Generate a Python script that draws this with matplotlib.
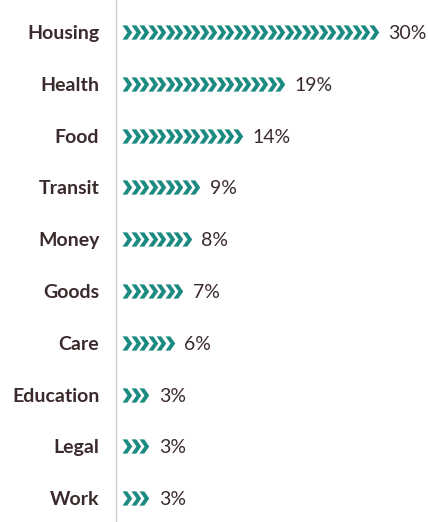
"""Pictogram bar chart: one chevron per percent"""

import matplotlib
matplotlib.use("Agg")
import matplotlib.pyplot as plt
from matplotlib.path import Path

categories = ["Housing", "Health", "Food", "Transit", "Money",
              "Goods", "Care", "Education", "Legal", "Work"]
shares = [30, 19, 14, 9, 8, 7, 6, 3, 3, 3]

TEAL = "#1b8a80"
TEXT = "#3b2a2c"

plt.rcParams["font.family"] = ["Lato", "DejaVu Sans"]

# chevron marker ">" with a thick stroke
chevron = Path([(-0.42, 0.6), (-0.02, 0.6), (0.4, 0.0), (-0.02, -0.6),
                (-0.42, -0.6), (0.0, 0.0), (-0.42, 0.6)],
               [Path.MOVETO] + [Path.LINETO] * 5 + [Path.CLOSEPOLY])

fig = plt.figure(figsize=(4.28, 5.22), dpi=100)
ax = fig.add_axes([116 / 428, 0, 312 / 428, 1])

offset = 1.3
for i, (cat, val) in enumerate(zip(categories, shares)):
    xs = [offset + k for k in range(val)]
    ax.scatter(xs, [i] * val, marker=chevron, s=105, color=TEAL, linewidths=0)
    ax.text(offset + val + 0.75, i + 0.03, f"{val}%", va="center", ha="left",
            fontsize=14, color=TEXT)

ax.set_xlim(0, 312 / 8.5)
ax.set_ylim((522 - 32) / 51.8, -32 / 51.8)
ax.set_yticks(range(len(categories)))
ax.set_yticklabels(categories, fontsize=14, fontweight="bold", color=TEXT)
ax.tick_params(axis="y", length=0, pad=12)
ax.set_xticks([])
for side in ["top", "right", "bottom"]:
    ax.spines[side].set_visible(False)
ax.spines["left"].set_color("#d0cccc")
ax.spines["left"].set_linewidth(1)

fig.savefig("out.png", dpi=100)
